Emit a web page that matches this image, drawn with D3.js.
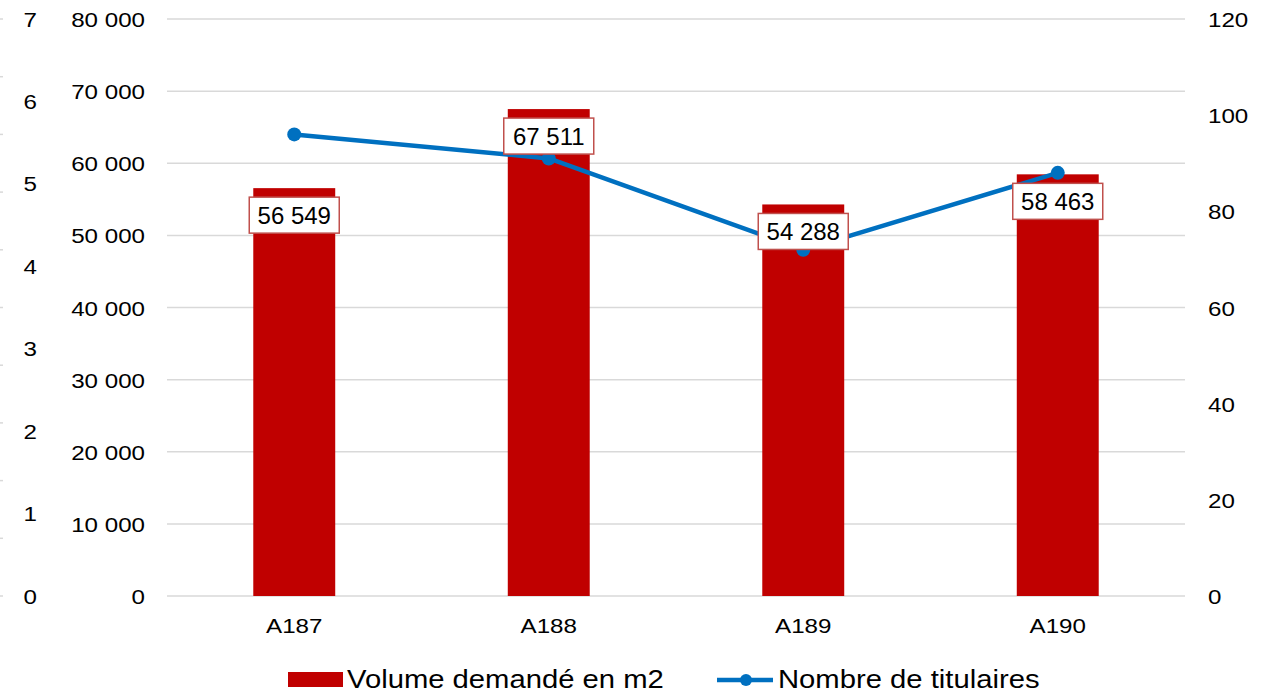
<!DOCTYPE html>
<html>
<head>
<meta charset="utf-8">
<script src="https://cdn.jsdelivr.net/npm/d3@7"></script>
<style>
  html, body { margin: 0; padding: 0; background: #fff; }
  svg { display: block; font-family: "Liberation Sans", Arial, sans-serif; }
</style>
</head>
<body>
<svg id="chart" width="1276" height="694"></svg>
<script>
const categories = ["A187", "A188", "A189", "A190"];
const volumes = [56549, 67511, 54288, 58463];
const titulaires = [96, 91, 72, 88];
const leftTicks = [0, 10000, 20000, 30000, 40000, 50000, 60000, 70000, 80000];
const rightTicks = [0, 20, 40, 60, 80, 100, 120];
const farLeftTicks = [0, 1, 2, 3, 4, 5, 6, 7];
const seriesNames = ["Volume demandé en m2", "Nombre de titulaires"];

const svg = d3.select("#chart");
const plot = { left: 167, right: 1185, top: 19, bottom: 596 };
const SX = 1.15;
const gridColor = "#d9d9d9";
const barColor = "#c00000";
const lineColor = "#0070c0";

const x = d3.scaleBand().domain(categories).range([plot.left, plot.right]).paddingInner(0).paddingOuter(0);
const yL = d3.scaleLinear().domain([0, 80000]).range([plot.bottom, plot.top]);
const yR = d3.scaleLinear().domain([0, 120]).range([plot.bottom, plot.top]);
const yF = d3.scaleLinear().domain([0, 7]).range([plot.bottom, plot.top]);
const fmt = v => d3.format(",")(v).replace(/,/g, " ");

function stretchText(sel, sx) {
  sel.each(function() {
    const t = d3.select(this);
    const xx = +t.attr("x") || 0;
    const yy = +t.attr("y") || 0;
    t.attr("x", 0).attr("y", 0).attr("transform", `translate(${xx},${yy}) scale(${sx},1)`);
  });
}

// gridlines
svg.append("g").selectAll("line").data(leftTicks).join("line")
  .attr("x1", plot.left).attr("x2", plot.right)
  .attr("y1", d => yL(d)).attr("y2", d => yL(d))
  .attr("stroke", gridColor).attr("stroke-width", 1.5);

// far-left tiny tick marks
const minorTicks = d3.range(0, 11).map(i => i * 7 / 10);
svg.append("g").selectAll("line").data(minorTicks).join("line")
  .attr("x1", 0).attr("x2", 3)
  .attr("y1", d => yF(d)).attr("y2", d => yF(d))
  .attr("stroke", gridColor).attr("stroke-width", 1.5);

// far-left labels
svg.append("g").selectAll("text").data(farLeftTicks).join("text")
  .attr("x", 37).attr("y", d => yF(d) + 7.5)
  .attr("text-anchor", "end").attr("font-size", 21).attr("fill", "#000")
  .text(d => d)
  .call(stretchText, SX);

// left axis labels
const gL = svg.append("g").attr("transform", `translate(${plot.left},0)`)
  .call(d3.axisLeft(yL).tickValues(leftTicks).tickSize(0).tickPadding(22).tickFormat(fmt));
gL.select(".domain").remove();
gL.selectAll("text").attr("font-size", 21).attr("font-family", "Liberation Sans, Arial, sans-serif")
  .attr("fill", "#000").attr("dy", null).attr("y", 7.5)
  .call(stretchText, SX);

// right axis labels
const gR = svg.append("g").attr("transform", `translate(${plot.right},0)`)
  .call(d3.axisRight(yR).tickValues(rightTicks).tickSize(0).tickPadding(23));
gR.select(".domain").remove();
gR.selectAll("text").attr("font-size", 21).attr("font-family", "Liberation Sans, Arial, sans-serif")
  .attr("fill", "#000").attr("dy", null).attr("y", 7.5)
  .call(stretchText, SX);

// bars
const bw = x.bandwidth() * 0.322;
svg.append("g").selectAll("rect").data(categories).join("rect")
  .attr("x", d => x(d) + x.bandwidth() / 2 - bw / 2)
  .attr("width", bw)
  .attr("y", (d, i) => yL(volumes[i]))
  .attr("height", (d, i) => yL(0) - yL(volumes[i]))
  .attr("fill", barColor);

// x axis labels
const gX = svg.append("g").attr("transform", `translate(0,${plot.bottom})`)
  .call(d3.axisBottom(x).tickSize(0).tickPadding(0));
gX.select(".domain").remove();
gX.selectAll("text").attr("font-size", 21).attr("font-family", "Liberation Sans, Arial, sans-serif")
  .attr("fill", "#000").attr("dy", null).attr("y", 37)
  .call(stretchText, SX);

// line
const line = d3.line().x((d, i) => x(categories[i]) + x.bandwidth() / 2).y(d => yR(d));
svg.append("path").datum(titulaires).attr("d", line)
  .attr("fill", "none").attr("stroke", lineColor).attr("stroke-width", 4.5)
  .attr("stroke-linejoin", "round");
svg.append("g").selectAll("circle").data(titulaires).join("circle")
  .attr("cx", (d, i) => x(categories[i]) + x.bandwidth() / 2)
  .attr("cy", d => yR(d)).attr("r", 7)
  .attr("fill", lineColor);

// data labels
const lab = svg.append("g").selectAll("g").data(volumes).join("g")
  .attr("transform", (d, i) => `translate(${x(categories[i]) + x.bandwidth() / 2},${yL(d) + 9})`);
lab.append("rect").attr("x", -45).attr("y", 0).attr("width", 90).attr("height", 36)
  .attr("fill", "#fff").attr("stroke", "#c0504d").attr("stroke-width", 1.5);
lab.append("text").attr("x", 0).attr("y", 26.5).attr("text-anchor", "middle")
  .attr("font-size", 24).attr("fill", "#000").text(d => fmt(d));

// legend
const leg = svg.append("g");
leg.append("rect").attr("x", 288).attr("y", 672).attr("width", 55).attr("height", 15).attr("fill", barColor);
leg.append("text").attr("x", 347).attr("y", 688).attr("font-size", 25).attr("fill", "#000")
  .text(seriesNames[0]).call(stretchText, 1.17);
leg.append("line").attr("x1", 717).attr("x2", 773).attr("y1", 680).attr("y2", 680)
  .attr("stroke", lineColor).attr("stroke-width", 4.5);
leg.append("circle").attr("cx", 746).attr("cy", 680).attr("r", 6).attr("fill", lineColor);
leg.append("text").attr("x", 778).attr("y", 688).attr("font-size", 25).attr("fill", "#000")
  .text(seriesNames[1]).call(stretchText, 1.17);
</script>
</body>
</html>
